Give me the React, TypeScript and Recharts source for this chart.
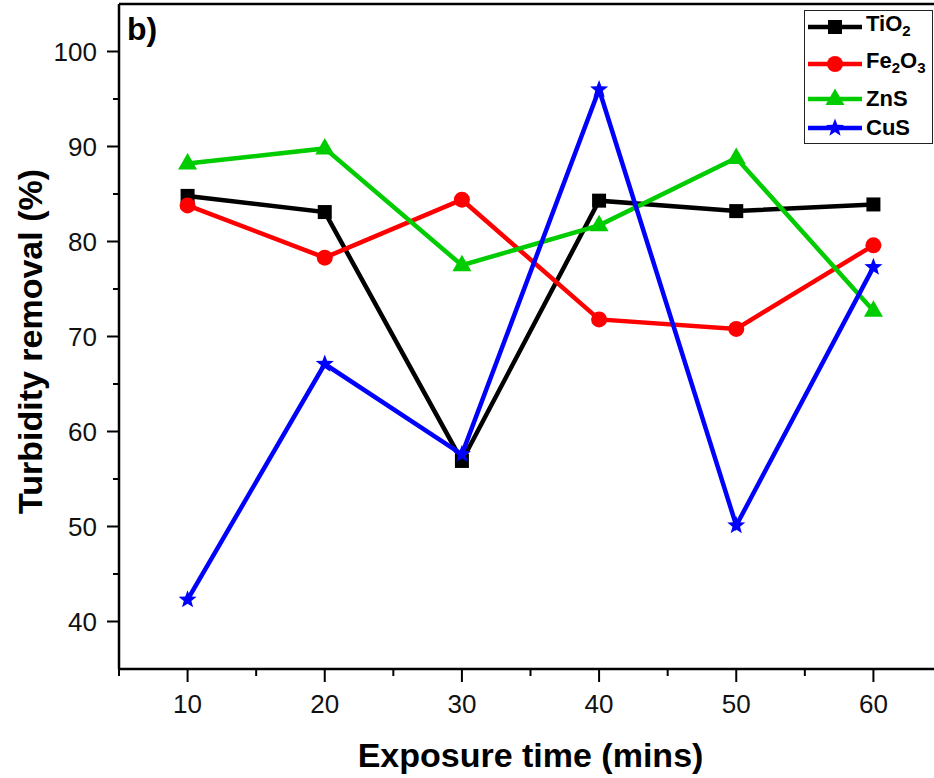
import React from 'react';
import { LineChart, Line, XAxis, YAxis, ReferenceLine, Legend } from 'recharts';

const exposureTimes = [10, 20, 30, 40, 50, 60];
const tio2Removal = [84.8, 83.1, 56.9, 84.3, 83.2, 83.9];
const fe2o3Removal = [83.8, 78.3, 84.4, 71.8, 70.8, 79.6];
const znsRemoval = [88.2, 89.8, 77.5, 81.7, 88.8, 72.7];
const cusRemoval = [42.3, 67.1, 57.6, 96.0, 50.1, 77.3];

const xTicks = [5, 10, 15, 20, 25, 30, 35, 40, 45, 50, 55, 60, 65];
const xMajor = [10, 20, 30, 40, 50, 60];
const yTicks = [40, 45, 50, 55, 60, 65, 70, 75, 80, 85, 90, 95, 100];
const yMajor = [40, 50, 60, 70, 80, 90, 100];

const FONT = '"Liberation Sans", Arial, Helvetica, sans-serif';

const data = exposureTimes.map((t, i) => ({
  time: t,
  TiO2: tio2Removal[i],
  Fe2O3: fe2o3Removal[i],
  ZnS: znsRemoval[i],
  CuS: cusRemoval[i],
}));

type Kind = 'square' | 'circle' | 'triangle' | 'star';

const starPath = (cx: number, cy: number, R: number, r: number) => {
  const pts: string[] = [];
  for (let k = 0; k < 10; k++) {
    const rad = k % 2 === 0 ? R : r;
    const a = -Math.PI / 2 + (k * Math.PI) / 5;
    pts.push(`${cx + rad * Math.cos(a)},${cy + rad * Math.sin(a)}`);
  }
  return `M${pts.join('L')}Z`;
};

const Marker = ({ cx, cy, kind, color }: { cx: number; cy: number; kind: Kind; color: string }) => {
  if (cx == null || cy == null) return null;
  switch (kind) {
    case 'square':
      return <rect x={cx - 7} y={cy - 7} width={14} height={14} fill={color} />;
    case 'circle':
      return <circle cx={cx} cy={cy} r={8} fill={color} />;
    case 'triangle':
      return <path d={`M${cx},${cy - 10.5}L${cx + 9.5},${cy + 6}L${cx - 9.5},${cy + 6}Z`} fill={color} />;
    default:
      return <path d={starPath(cx, cy, 9.5, 4)} fill={color} />;
  }
};

const subStyle = { fontSize: 15, verticalAlign: '-5px' };

const series: { key: string; color: string; kind: Kind; label: React.ReactNode }[] = [
  { key: 'TiO2', color: '#000000', kind: 'square', label: <>TiO<sub style={subStyle}>2</sub></> },
  {
    key: 'Fe2O3',
    color: '#ff0000',
    kind: 'circle',
    label: (
      <>
        Fe<sub style={subStyle}>2</sub>O<sub style={subStyle}>3</sub>
      </>
    ),
  },
  { key: 'ZnS', color: '#00cc00', kind: 'triangle', label: 'ZnS' },
  { key: 'CuS', color: '#0000ff', kind: 'star', label: 'CuS' },
];

const legendRowCenters = [16, 53, 88, 117];

const LegendBox = () => (
  <div
    style={{
      position: 'relative',
      width: 129,
      height: 134,
      border: '1.5px solid #222',
      background: '#fff',
      fontFamily: FONT,
      fontWeight: 700,
      fontSize: 22,
      color: '#000',
      boxSizing: 'border-box',
    }}
  >
    {series.map((s, i) => (
      <div
        key={s.key}
        style={{
          position: 'absolute',
          left: 3,
          top: legendRowCenters[i] - 12,
          height: 24,
          display: 'flex',
          alignItems: 'center',
          whiteSpace: 'nowrap',
        }}
      >
        <svg width={54} height={24} style={{ display: 'block' }}>
          <line x1={0} y1={12} x2={54} y2={12} stroke={s.color} strokeWidth={4.5} />
          <Marker cx={27} cy={12} kind={s.kind} color={s.color} />
        </svg>
        <span style={{ marginLeft: 4, lineHeight: '24px' }}>{s.label}</span>
      </div>
    ))}
  </div>
);

const YTick = ({ x, y, payload }: any) => {
  const major = yMajor.includes(payload.value);
  return (
    <g>
      <line x1={x} y1={y} x2={x - (major ? 12 : 6)} y2={y} stroke="#000" strokeWidth={2} />
      {major && (
        <text x={x - 22} y={y + 9} textAnchor="end" fontFamily={FONT} fontSize={26} fill="#111">
          {payload.value}
        </text>
      )}
    </g>
  );
};

const XTick = ({ x, y, payload }: any) => {
  const major = xMajor.includes(payload.value);
  return (
    <g>
      <line x1={x} y1={y} x2={x} y2={y + (major ? 13 : 7)} stroke="#000" strokeWidth={2} />
      {major && (
        <text x={x} y={y + 44} textAnchor="middle" fontFamily={FONT} fontSize={26} fill="#111">
          {payload.value}
        </text>
      )}
    </g>
  );
};

const YTitle = ({ viewBox }: any) => {
  const cx = 30;
  const cy = viewBox.y + viewBox.height / 2 + 5;
  return (
    <text
      x={cx}
      y={cy}
      transform={`rotate(-90 ${cx} ${cy})`}
      textAnchor="middle"
      dominantBaseline="central"
      fontFamily={FONT}
      fontWeight={700}
      fontSize={34}
      fill="#000"
    >
      Turbidity removal (%)
    </text>
  );
};

const XTitle = ({ viewBox }: any) => (
  <text
    x={viewBox.x + viewBox.width / 2}
    y={viewBox.y + 98}
    textAnchor="middle"
    fontFamily={FONT}
    fontWeight={700}
    fontSize={34}
    fill="#000"
  >
    Exposure time (mins)
  </text>
);

export default function App() {
  return (
    <div
      style={{
        position: 'fixed',
        left: 0,
        top: 0,
        width: 934,
        height: 778,
        overflow: 'hidden',
        background: '#fff',
      }}
    >
      <LineChart width={950} height={778} data={data} margin={{ top: 4, right: 8, bottom: 0, left: 0 }}>
        <XAxis
          dataKey="time"
          type="number"
          domain={[5, 65]}
          ticks={xTicks}
          interval={0}
          height={109}
          tickSize={0}
          tickMargin={0}
          tickLine={false}
          tick={<XTick />}
          axisLine={{ stroke: '#000', strokeWidth: 2.5 }}
          label={{ content: <XTitle /> }}
        />
        <YAxis
          type="number"
          domain={[35, 105]}
          ticks={yTicks}
          interval={0}
          width={119}
          tickSize={0}
          tickMargin={0}
          tickLine={false}
          tick={<YTick />}
          axisLine={{ stroke: '#000', strokeWidth: 2.5 }}
          label={{ content: <YTitle /> }}
        />
        <ReferenceLine y={105} stroke="#000" strokeWidth={2.5} />
        <ReferenceLine x={65} stroke="#000" strokeWidth={2.5} />
        {series.map((s) => (
          <Line
            key={s.key}
            dataKey={s.key}
            stroke={s.color}
            strokeWidth={4.5}
            isAnimationActive={false}
            dot={(p: any) => <Marker key={`${s.key}-${p.index}`} cx={p.cx} cy={p.cy} kind={s.kind} color={s.color} />}
            activeDot={false}
          />
        ))}
        <Legend
          layout="vertical"
          align="center"
          verticalAlign="middle"
          content={() => <LegendBox />}
          wrapperStyle={{ position: 'absolute', top: 10, left: 804, width: 129, height: 134 }}
        />
      </LineChart>
      <div
        style={{
          position: 'absolute',
          left: 127,
          top: 10,
          fontFamily: FONT,
          fontWeight: 700,
          fontSize: 32,
          lineHeight: '38px',
          color: '#000',
        }}
      >
        b)
      </div>
    </div>
  );
}
